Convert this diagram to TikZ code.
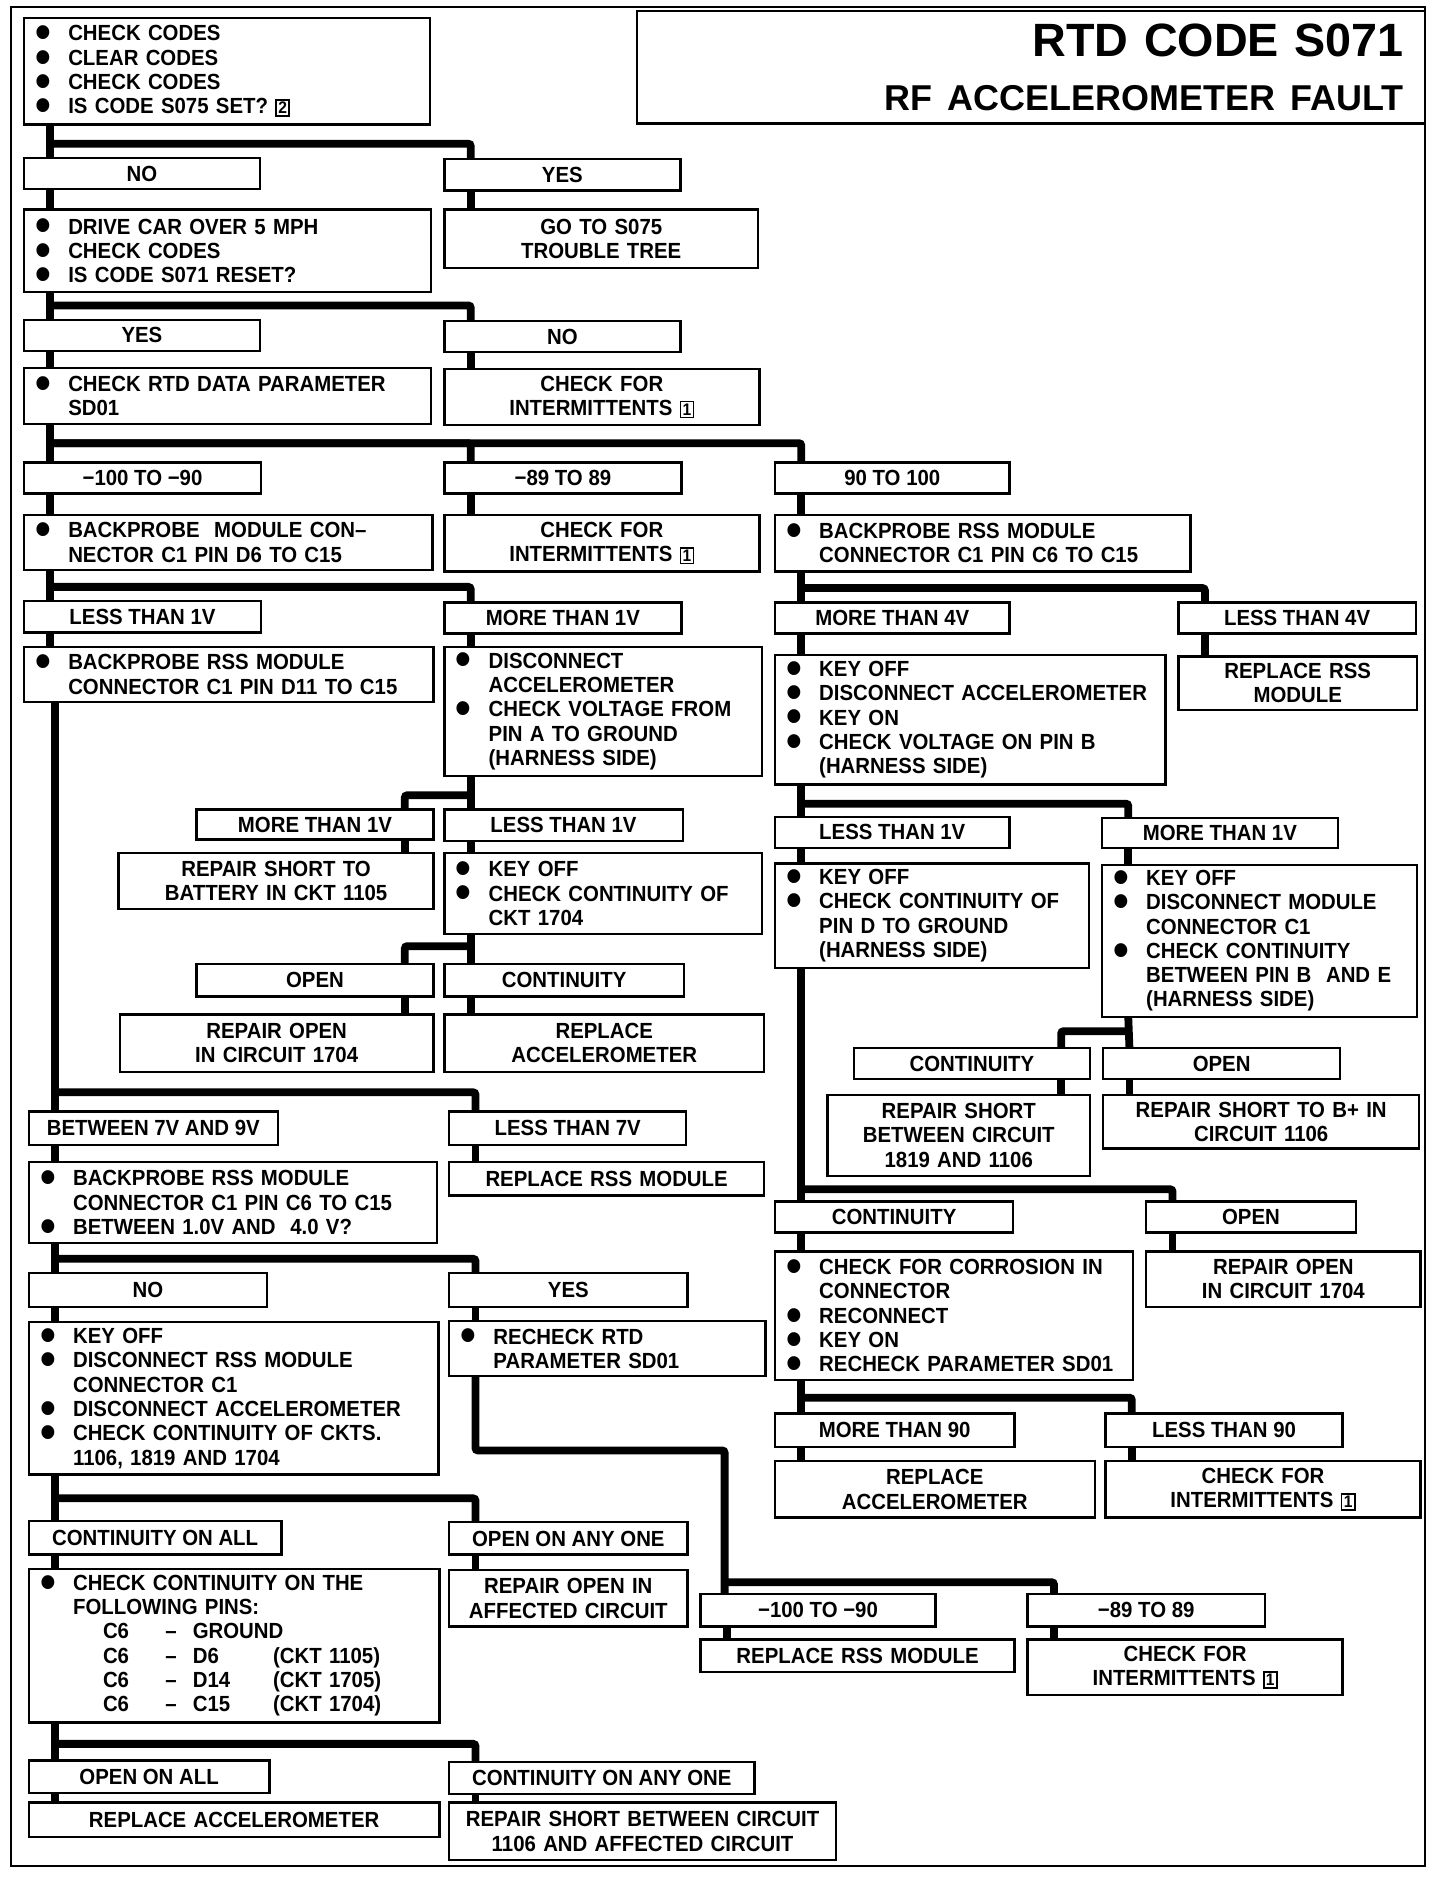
\documentclass[tikz,border=0pt]{standalone}
\usepackage{fontspec}
\setmainfont{Liberation Sans}[FakeStretch=0.93]
\newfontfamily\titlefont{Liberation Sans}
\usepackage{graphicx}
\usetikzlibrary{positioning}

\newcommand{\boxfont}{\bfseries\fontsize{18.3}{20.3}\selectfont}
\newcommand{\bul}{\makebox[37pt][l]{\hspace{9.5pt}\raisebox{-6.5pt}[0pt][0pt]{\scalebox{2.2}{\textbullet}}}}
\newcommand{\ind}{\hspace*{37pt}}
\newcommand{\nbox}[1]{{\fboxsep=1.2pt\fboxrule=1.3pt\fbox{\fontsize{14}{14}\selectfont #1}}}
\newcommand{\pinrow}[3]{\hspace*{62pt}\makebox[52pt][l]{#1}\makebox[23pt][l]{--}\makebox[67pt][l]{#2}#3}

\tikzset{
  lbl/.style={draw,line width=2pt,anchor=north west,inner sep=0pt,outer sep=0pt,
    minimum width=198pt,minimum height=26pt,font=\boxfont},
  stepbox/.style={draw,line width=2pt,anchor=north west,inner sep=0pt,outer sep=0pt,
    align=left,font=\boxfont},
  endbox/.style={draw,line width=2pt,anchor=north west,inner sep=0pt,outer sep=0pt,
    align=center,font=\boxfont},
  titlebox/.style={draw,line width=2pt,anchor=north east,inner sep=0pt,outer sep=0pt,
    minimum width=658pt,minimum height=94pt,text width=622pt,align=right,
    font=\titlefont\bfseries\fontsize{39}{45}\selectfont},
  link/.style={line width=6.5pt,rounded corners=2pt},
}

\begin{document}
\begin{tikzpicture}[x=1pt,y=-1pt]
  \path[fill=white] (0,0) rectangle (1202,1568);
  \draw[line width=2pt] (9,6) rectangle (1190,1558);

  \node[titlebox] (title) at (1190,9) {RTD CODE S071\\{\fontsize{30}{30}\selectfont RF ACCELEROMETER FAULT}};

  % left column
  \node[stepbox,text width=339pt,minimum height=89pt] (chk1) at (20,15) {\bul CHECK CODES\\ \bul CLEAR CODES\\ \bul CHECK CODES\\ \bul IS CODE S075 SET? \nbox{2}};
  \node[lbl,minimum width=197pt] (no1) at (20,132) {NO};
  \node[stepbox,text width=340pt,minimum height=69pt] (drive) at (20,175) {\bul DRIVE CAR OVER 5 MPH\\ \bul CHECK CODES\\ \bul IS CODE S071 RESET?};
  \node[lbl,minimum width=197pt] (yes2) at (20,267) {YES};
  \node[stepbox,text width=340pt,minimum height=47pt] (rtd) at (20,307) {\bul CHECK RTD DATA PARAMETER\\ \ind SD01};
  \node[lbl] (m100a) at (20,386) {−100 TO −90};
  \node[stepbox,text width=341pt,minimum height=46pt] (bpD6) at (20,430) {\bul BACKPROBE\ \ MODULE CON--\\ \ind NECTOR C1 PIN D6 TO C15};
  \node[lbl] (lt1a) at (20,502) {LESS THAN 1V};
  \node[stepbox,text width=342pt,minimum height=46pt] (bpD11) at (20,540) {\bul BACKPROBE RSS MODULE\\ \ind CONNECTOR C1 PIN D11 TO C15};

  \node[lbl,minimum width=198pt,minimum height=25pt] (mt1b) at (164,676) {MORE THAN 1V};
  \node[endbox,text width=263pt,minimum height=47pt] (batt) at (99,712) {REPAIR SHORT TO\\ BATTERY IN CKT 1105};
  \node[lbl,minimum height=27pt] (openA) at (164,805) {OPEN};
  \node[endbox,text width=262pt,minimum height=48pt] (rpOpenA) at (100,847) {REPAIR OPEN\\ IN CIRCUIT 1704};

  \node[lbl,minimum width=208pt,minimum height=28pt] (b79) at (24,928) {BETWEEN 7V AND 9V};
  \node[stepbox,text width=341pt,minimum height=68pt] (bp16) at (24,970) {\bul BACKPROBE RSS MODULE\\ \ind CONNECTOR C1 PIN C6 TO C15\\ \bul BETWEEN 1.0V AND\ \ 4.0 V?};
  \node[lbl,minimum width=199pt,minimum height=28pt] (no3) at (24,1063) {NO};
  \node[stepbox,text width=342pt,minimum height=127pt] (keyC) at (24,1104) {\bul KEY OFF\\ \bul DISCONNECT RSS MODULE\\ \ind CONNECTOR C1\\ \bul DISCONNECT ACCELEROMETER\\ \bul CHECK CONTINUITY OF CKTS.\\ \ind 1106, 1819 AND 1704};
  \node[lbl,minimum width=211pt,minimum height=28pt] (contAll) at (24,1270) {CONTINUITY ON ALL};
  \node[stepbox,text width=343pt,minimum height=128pt] (pins) at (24,1310) {\bul CHECK CONTINUITY ON THE\\ \ind FOLLOWING PINS:\\ \pinrow{C6}{GROUND}{}\\ \pinrow{C6}{D6}{(CKT 1105)}\\ \pinrow{C6}{D14}{(CKT 1705)}\\ \pinrow{C6}{C15}{(CKT 1704)}};
  \node[lbl,minimum width=201pt,minimum height=27pt] (openAll) at (24,1470) {OPEN ON ALL};
  \node[endbox,text width=343pt,minimum height=29pt] (replAccC) at (24,1505) {REPLACE ACCELEROMETER};

  % middle column
  \node[lbl,minimum width=197pt] (yes1) at (371,133) {YES};
  \node[endbox,text width=262pt,minimum height=49pt] (gotoS) at (371,175) {GO TO S075\\ TROUBLE TREE};
  \node[lbl,minimum width=197pt] (no2) at (371,268) {NO};
  \node[endbox,text width=263pt,minimum height=47pt] (inter1) at (371,308) {CHECK FOR\\ INTERMITTENTS \nbox{1}};
  \node[lbl] (m89a) at (371,386) {−89 TO 89};
  \node[endbox,text width=263pt,minimum height=47pt] (inter2) at (371,430) {CHECK FOR\\ INTERMITTENTS \nbox{1}};
  \node[lbl] (mt1a) at (371,503) {MORE THAN 1V};
  \node[stepbox,text width=265pt,minimum height=108pt] (discA) at (371,540) {\bul DISCONNECT\\ \ind ACCELEROMETER\\ \bul CHECK VOLTAGE FROM\\ \ind PIN A TO GROUND\\ \ind (HARNESS SIDE)};
  \node[lbl,minimum width=199pt] (lt1b) at (371,676) {LESS THAN 1V};
  \node[stepbox,text width=265pt,minimum height=68pt] (ckt1704) at (371,712) {\bul KEY OFF\\ \bul CHECK CONTINUITY OF\\ \ind CKT 1704};
  \node[lbl,minimum width=200pt,minimum height=27pt] (contA) at (371,805) {CONTINUITY};
  \node[endbox,text width=267pt,minimum height=48pt] (replAccA) at (371,847) {REPLACE\\ ACCELEROMETER};

  \node[lbl,minimum height=28pt] (lt7) at (375,928) {LESS THAN 7V};
  \node[endbox,text width=263pt,minimum height=28pt] (rssB) at (375,970) {REPLACE RSS MODULE};
  \node[lbl,minimum width=199pt,minimum height=28pt] (yes3) at (375,1063) {YES};
  \node[stepbox,text width=264pt,minimum height=46pt] (recheck) at (375,1103) {\bul RECHECK RTD\\ \ind PARAMETER SD01};
  \node[lbl,minimum width=199pt,minimum height=27pt] (openAny) at (375,1271) {OPEN ON ANY ONE};
  \node[endbox,text width=199pt,minimum height=47pt] (rpAff) at (375,1311) {REPAIR OPEN IN\\ AFFECTED CIRCUIT};
  \node[lbl,minimum width=255pt,minimum height=27pt] (contAny) at (375,1471) {CONTINUITY ON ANY ONE};
  \node[endbox,text width=323pt,minimum height=48pt] (rpShort) at (375,1505) {REPAIR SHORT BETWEEN CIRCUIT\\ 1106 AND AFFECTED CIRCUIT};

  % right column
  \node[lbl,minimum width=196pt] (p90) at (647,386) {90 TO 100};
  \node[stepbox,text width=347pt,minimum height=47pt] (bpC6) at (647,430) {\bul BACKPROBE RSS MODULE\\ \ind CONNECTOR C1 PIN C6 TO C15};
  \node[lbl,minimum width=196pt] (mt4) at (647,503) {MORE THAN 4V};
  \node[stepbox,text width=326pt,minimum height=108pt] (keyB) at (647,547) {\bul KEY OFF\\ \bul DISCONNECT ACCELEROMETER\\ \bul KEY ON\\ \bul CHECK VOLTAGE ON PIN B\\ \ind (HARNESS SIDE)};
  \node[lbl,minimum width=196pt] (lt1c) at (647,682) {LESS THAN 1V};
  \node[stepbox,text width=262pt,minimum height=87pt] (pinD) at (647,721) {\bul KEY OFF\\ \bul CHECK CONTINUITY OF\\ \ind PIN D TO GROUND\\ \ind (HARNESS SIDE)};
  \node[lbl,minimum width=199pt] (contC) at (647,1003) {CONTINUITY};
  \node[stepbox,text width=299pt,minimum height=107pt] (corr) at (647,1045) {\bul CHECK FOR CORROSION IN\\ \ind CONNECTOR\\ \bul RECONNECT\\ \bul KEY ON\\ \bul RECHECK PARAMETER SD01};
  \node[lbl,minimum width=200pt,minimum height=28pt] (mt90) at (647,1180) {MORE THAN 90};
  \node[endbox,text width=267pt,minimum height=47pt] (replAccB) at (647,1220) {REPLACE\\ ACCELEROMETER};

  \node[lbl] (lt4) at (984,503) {LESS THAN 4V};
  \node[endbox,text width=199pt,minimum height=45pt] (rssA) at (984,548) {REPLACE RSS\\ MODULE};
  \node[lbl,minimum width=197pt,minimum height=25pt] (mt1c) at (920,683) {MORE THAN 1V};
  \node[stepbox,text width=263pt,minimum height=127pt] (pinBE) at (920,722) {\bul KEY OFF\\ \bul DISCONNECT MODULE\\ \ind CONNECTOR C1\\ \bul CHECK CONTINUITY\\ \ind BETWEEN PIN B\ \ AND E\\ \ind (HARNESS SIDE)};
  \node[lbl,minimum width=197pt] (contB) at (713,875) {CONTINUITY};
  \node[endbox,text width=219pt,minimum height=68pt] (shortS) at (691,914) {REPAIR SHORT\\ BETWEEN CIRCUIT\\ 1819 AND 1106};
  \node[lbl] (openB) at (921,875) {OPEN};
  \node[endbox,text width=264pt,minimum height=45pt] (shortB) at (921,914) {REPAIR SHORT TO B+ IN\\ CIRCUIT 1106};
  \node[lbl,minimum width=175pt] (openC) at (957,1003) {OPEN};
  \node[endbox,text width=229pt,minimum height=46pt] (rpOpenB) at (957,1045) {REPAIR OPEN\\ IN CIRCUIT 1704};
  \node[lbl,minimum height=28pt] (lt90) at (923,1180) {LESS THAN 90};
  \node[endbox,text width=263pt,minimum height=47pt] (inter3) at (923,1220) {CHECK FOR\\ INTERMITTENTS \nbox{1}};

  \node[lbl,minimum width=196pt,minimum height=27pt] (m100b) at (585,1331) {−100 TO −90};
  \node[endbox,text width=262pt,minimum height=27pt] (rssC) at (585,1369) {REPLACE RSS MODULE};
  \node[lbl,minimum height=27pt] (m89b) at (858,1331) {−89 TO 89};
  \node[endbox,text width=263pt,minimum height=46pt] (inter4) at (858,1369) {CHECK FOR\\ INTERMITTENTS \nbox{1}};

  % connectors
  \foreach \a/\b in {chk1/no1,no1/drive,yes1/gotoS,drive/yes2,yes2/rtd,no2/inter1,
      rtd/m100a,m100a/bpD6,m89a/inter2,p90/bpC6,bpD6/lt1a,lt1a/bpD11,mt1a/discA,
      bpC6/mt4,mt4/keyB,lt4/rssA,discA/lt1b,lt1b/ckt1704,ckt1704/contA,contA/replAccA,
      keyB/lt1c,lt1c/pinD,mt1c/pinBE,pinBE/openB,openB/shortB,pinD/contC,contC/corr,
      openC/rpOpenB,corr/mt90,mt90/replAccB,lt90/inter3,b79/bp16,lt7/rssB,bp16/no3,
      no3/keyC,yes3/recheck,keyC/contAll,contAll/pins,openAny/rpAff,pins/openAll,
      openAll/replAccC,contAny/rpShort,m100b/rssC,m89b/inter4}
    \draw[link] ([xshift=22pt]\a.south west) -- ([xshift=22pt]\b.north west);
  \foreach \a/\b in {mt1b/batt,openA/rpOpenA,contB/shortS}
    \draw[link] ([xshift=-24pt]\a.south east) -- ([xshift=-24pt]\b.north east);
  \foreach \a/\d/\b in {chk1/-16pt/yes1,drive/-11pt/no2,rtd/-16pt/m89a,rtd/-16pt/p90,
      bpD6/-14pt/mt1a,bpC6/-14pt/lt4,keyB/-16pt/mt1c,pinD/-185pt/openC,corr/-15pt/lt90,
      bp16/-13pt/yes3,keyC/-20pt/openAny,pins/-18pt/contAny}
    \draw[link] ([xshift=22pt,yshift=\d]\a.south west) -| ([xshift=22pt]\b.north west);
  \foreach \a/\d/\b in {discA/-16pt/mt1b,ckt1704/-10pt/openA,pinBE/-12pt/contB}
    \draw[link] ([xshift=22pt,yshift=\d]\a.south west) -| ([xshift=-24pt]\b.north east);
  \draw[link] ([xshift=26pt]bpD11.south west) -- ([xshift=22pt]b79.north west);
  \draw[link] ([xshift=26pt,yshift=-326pt]bpD11.south west) -| ([xshift=22pt]lt7.north west);
  \draw[link] ([xshift=22pt]recheck.south west) -- ++(0,-62pt) -| ([xshift=20pt]m100b.north west);
  \draw[link] ([xshift=20pt,yshift=10pt]m100b.north west) -| ([xshift=22pt]m89b.north west);
\end{tikzpicture}
\end{document}
